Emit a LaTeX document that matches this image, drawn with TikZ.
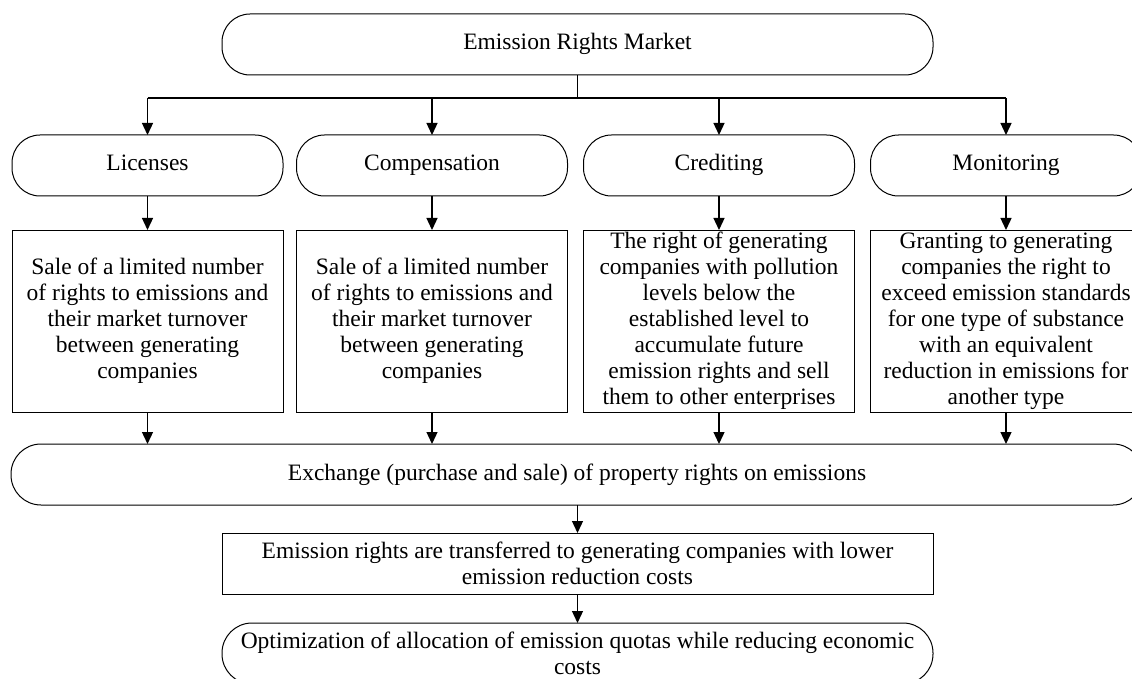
\documentclass[tikz,border=0pt]{standalone}
\usepackage{fontspec}
\setmainfont{Liberation Serif}
\usetikzlibrary{arrows.meta}
\begin{document}
\begin{tikzpicture}[x=1pt,y=-1pt,
  every node/.style={font=\fontsize{23.5}{26}\selectfont, align=center, inner sep=0pt, outer sep=0pt},
  oneline/.style={text height=16pt, text depth=5pt},
  pill/.style={draw, line width=1pt, rounded corners=28pt, minimum height=61pt},
  card/.style={draw, line width=1pt},
  wire/.style={line width=1.3pt},
  link/.style={line width=1.3pt, -{Triangle[length=12pt,width=11pt]}},
]
\useasboundingbox (0,0) rectangle (1132,679);

% top of the hierarchy
\node[pill, oneline, minimum width=711pt] (market) at (577.5,44.5) {Emission Rights Market};

% the four instruments
\node[pill, oneline, minimum width=271pt] (lic)  at (147.5,165.5) {Licenses};
\node[pill, oneline, minimum width=271pt] (comp) at (432,165.5)   {Compensation};
\node[pill, oneline, minimum width=271pt] (cred) at (719,165.5)   {Crediting};
\node[pill, oneline, minimum width=271pt] (mon)  at (1006,165.5)  {Monitoring};

% their descriptions
\node[card, minimum width=271pt, minimum height=182pt] (licd) at (147.5,321)
  {Sale of a limited number\\of rights to emissions and\\their market turnover\\between generating\\companies};
\node[card, minimum width=271pt, minimum height=182pt] (compd) at (432,321)
  {Sale of a limited number\\of rights to emissions and\\their market turnover\\between generating\\companies};
\node[card, minimum width=271pt, minimum height=182pt] (credd) at (719,321)
  {The right of generating\\companies with pollution\\levels below the\\established level to\\accumulate future\\emission rights and sell\\them to other enterprises};
\node[card, minimum width=271pt, minimum height=182pt] (mond) at (1006,321)
  {Granting to generating\\companies the right to\\exceed emission standards\\for one type of substance\\with an equivalent\\reduction in emissions for\\another type};

% exchange and outcomes
\node[pill, oneline, rounded corners=30pt, minimum width=1132pt] (exch) at (577,474.5)
  {Exchange (purchase and sale) of property rights on emissions};
\node[card, minimum width=711pt, minimum height=61pt] (transfer) at (577.5,563.5)
  {Emission rights are transferred to generating companies with lower\\emission reduction costs};
\node[pill, rounded corners=30pt, minimum width=711pt, minimum height=61pt] (final) at (577.5,653.5)
  {Optimization of allocation of emission quotas while reducing economic\\costs};

% fan-out from the market
\coordinate (fork) at (577.5,98);
\coordinate (busL) at (147.5,98);
\coordinate (busR) at (1006,98);
\draw[wire] (market.south) -- (fork);
\draw[wire] (busL) -- (busR);
\foreach \n in {lic,comp,cred,mon}
  \draw[link] (\n.north |- busL) -- (\n.north);

% instruments to descriptions to exchange
\foreach \n in {lic,comp,cred,mon} {
  \draw[link] (\n.south) -- (\n d.north);
  \draw[link] (\n d.south) -- (\n d.south |- exch.north);
}

% exchange down to the result
\draw[link] (transfer.north |- exch.south) -- (transfer.north);
\draw[link] (transfer.south) -- (final.north);
\end{tikzpicture}
\end{document}
